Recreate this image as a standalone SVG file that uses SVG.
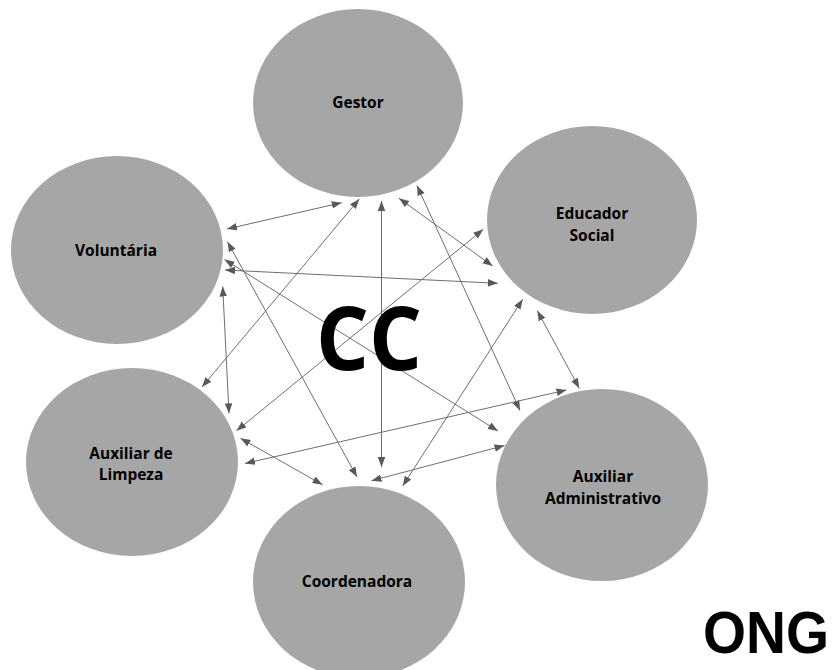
<svg xmlns="http://www.w3.org/2000/svg" width="836" height="670" viewBox="0 0 836 670">
<style>
.node{fill:#a6a6a6;}
.lbl{font-family:"Open Sans","Liberation Sans",sans-serif;font-weight:bold;font-size:15.5px;fill:#000;text-anchor:middle;}
.big{font-family:"Open Sans","Liberation Sans",sans-serif;font-weight:bold;fill:#000;}
.cn{stroke:#6e6e6e;stroke-width:1;fill:none;marker-start:url(#ah);marker-end:url(#ah);}
</style>
<defs>
<marker id="ah" markerUnits="userSpaceOnUse" markerWidth="11" markerHeight="8" refX="10" refY="3.75" orient="auto-start-reverse">
<path d="M0,0 L10,3.75 L0,7.5 z" fill="#595959"/>
</marker>
</defs>
<rect width="836" height="670" fill="#fff"/>
<g id="gestor"><ellipse class="node" cx="358" cy="103" rx="105" ry="94"/><text class="lbl" x="358" y="108">Gestor</text></g>
<g id="educador"><ellipse class="node" cx="592" cy="220" rx="105" ry="94"/><text class="lbl" x="592" y="219">Educador</text><text class="lbl" x="592" y="241">Social</text></g>
<g id="voluntaria"><ellipse class="node" cx="117" cy="250" rx="106" ry="94"/><text class="lbl" x="116" y="256">Voluntária</text></g>
<g id="limpeza"><ellipse class="node" cx="132" cy="462" rx="106" ry="94"/><text class="lbl" x="131" y="459">Auxiliar de</text><text class="lbl" x="131" y="480">Limpeza</text></g>
<g id="coordenadora"><ellipse class="node" cx="359" cy="582" rx="106" ry="96"/><text class="lbl" x="357" y="587">Coordenadora</text></g>
<g id="administrativo"><ellipse class="node" cx="602" cy="485" rx="106" ry="96"/><text class="lbl" x="603" y="482">Auxiliar</text><text class="lbl" x="603" y="504">Administrativo</text></g>
<g id="connectors">
<line class="cn" x1="227" y1="229" x2="341.7" y2="202.7"/>
<line class="cn" x1="359.3" y1="199" x2="202" y2="387"/>
<line class="cn" x1="381.5" y1="201" x2="381.5" y2="467"/>
<line class="cn" x1="399" y1="198.3" x2="492.7" y2="266"/>
<line class="cn" x1="417" y1="185.5" x2="520" y2="410.5"/>
<line class="cn" x1="225" y1="270" x2="497.7" y2="283.3"/>
<line class="cn" x1="227.5" y1="241.7" x2="357" y2="477"/>
<line class="cn" x1="224.5" y1="259.5" x2="498" y2="431"/>
<line class="cn" x1="222.7" y1="286.5" x2="229" y2="413.3"/>
<line class="cn" x1="236.5" y1="430.8" x2="483.3" y2="229.3"/>
<line class="cn" x1="240.5" y1="438.3" x2="322.5" y2="484.7"/>
<line class="cn" x1="245" y1="463.5" x2="566.5" y2="390"/>
<line class="cn" x1="371.5" y1="480.8" x2="504.5" y2="445.5"/>
<line class="cn" x1="402.7" y1="486" x2="522.7" y2="299.3"/>
<line class="cn" x1="537.3" y1="310.7" x2="579.3" y2="388.3"/>
</g>
<text class="big" x="316" y="370" font-size="87" textLength="106" lengthAdjust="spacingAndGlyphs">CC</text>
<text x="703" y="653" font-family="'Liberation Sans', Arial, sans-serif" font-weight="bold" font-size="59" fill="#000" textLength="126" lengthAdjust="spacingAndGlyphs">ONG</text>
</svg>
